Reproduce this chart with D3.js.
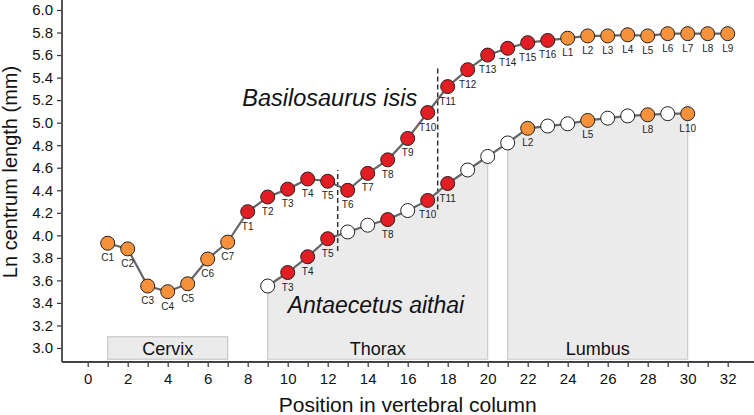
<!DOCTYPE html>
<html><head><meta charset="utf-8">
<script src="https://cdn.jsdelivr.net/npm/d3@7"></script>
<style>
body{margin:0;background:#fff;}
svg{display:block;font-family:"Liberation Sans",Arial,sans-serif;}
</style></head>
<body><svg id="chart" width="754" height="415"></svg>
<script>
// Basilosaurus isis
const basPositions = [1,2,3,4,5,6,7,8,9,10,11,12,13,14,15,16,17,18,19,20,21,22,23,24,25,26,27,28,29,30,31,32];
const basLabels = ["C1","C2","C3","C4","C5","C6","C7",
  "T1","T2","T3","T4","T5","T6","T7","T8","T9","T10","T11","T12","T13","T14","T15","T16",
  "L1","L2","L3","L4","L5","L6","L7","L8","L9"];
const basValues = [3.93,3.88,3.55,3.50,3.57,3.79,3.94,
  4.21,4.34,4.41,4.50,4.48,4.40,4.55,4.67,4.86,5.09,5.32,5.47,5.60,5.66,5.71,5.73,
  5.75,5.77,5.77,5.78,5.77,5.79,5.79,5.79,5.79];

// Antaecetus aithai
const antPositions = [9,10,11,12,13,14,15,16,17,18,19,20,21,22,23,24,25,26,27,28,29,30];
const antLabels = ["","T3","T4","T5","","","T8","","T10","T11","","","","L2","","","L5","","","L8","","L10"];
const antValues = [3.55,3.67,3.81,3.97,4.03,4.09,4.14,4.22,4.31,4.46,4.58,4.70,4.82,4.95,4.97,4.99,5.02,5.04,5.06,5.07,5.08,5.08];

// regions
const regionNames = ["Cervix","Thorax","Lumbus"];
const regionStart = [1,9,21];
const regionEnd = [7,20,30];
const cervixTop = 3.1;
const regionBase = 2.9;

// dashed dividers
const dividerX = [12.5, 17.5];
const dividerY0 = [3.86, 4.23];
const dividerY1 = [4.58, 5.49];

const yTicks = [3.0,3.2,3.4,3.6,3.8,4.0,4.2,4.4,4.6,4.8,5.0,5.2,5.4,5.6,5.8,6.0];
const xTicks = [0,1,2,3,4,5,6,7,8,9,10,11,12,13,14,15,16,17,18,19,20,21,22,23,24,25,26,27,28,29,30,31,32];

const RED = "#e31d23", ORANGE = "#f7923b", WHITE = "#ffffff";
const colorFor = l => l === "" ? WHITE : (l[0] === "T" ? RED : ORANGE);

const svg = d3.select("#chart");
const x = d3.scaleLinear().domain([0,32]).range([87.7,727.7]);
const y = d3.scaleLinear().domain([3,6]).range([348,10]);
const axisY = 362, axisX = 62;

// regions
svg.append("rect")
  .attr("x", x(regionStart[0])).attr("y", y(cervixTop))
  .attr("width", x(regionEnd[0]) - x(regionStart[0]))
  .attr("height", y(regionBase) - y(cervixTop))
  .attr("fill", "#ebebeb").attr("stroke", "#c9c9c9").attr("stroke-width", 1.2);

const antData = antPositions.map((p,i)=>({p, v:antValues[i], l:antLabels[i]}));
const area = d3.area().x(d=>x(d.p)).y0(y(regionBase)).y1(d=>y(d.v));
[1,2].forEach(k=>{
  const seg = antData.filter(d=>d.p>=regionStart[k] && d.p<=regionEnd[k]);
  svg.append("path").datum(seg).attr("d", area)
    .attr("fill","#ebebeb").attr("stroke","#c9c9c9").attr("stroke-width",1.2);
});
regionNames.forEach((n,i)=>{
  svg.append("text").attr("x", x((regionStart[i]+regionEnd[i])/2)).attr("y", 355)
    .attr("text-anchor","middle").attr("font-size",18).attr("fill","#111").text(n);
});

// axes
const gy = svg.append("g").attr("transform",`translate(${axisX},0)`)
  .call(d3.axisLeft(y).tickValues(yTicks).tickFormat(d3.format(".1f")).tickSize(5).tickPadding(4));
gy.select(".domain").remove();
gy.selectAll("line").attr("stroke","#333").attr("stroke-width",1.2);
gy.selectAll("text").attr("font-size",15).attr("fill","#111").attr("font-family","Liberation Sans, Arial, sans-serif");
svg.append("line").attr("x1",axisX).attr("x2",axisX).attr("y1",0).attr("y2",axisY)
  .attr("stroke","#444").attr("stroke-width",1.8);

const gx = svg.append("g").attr("transform",`translate(0,${axisY})`)
  .call(d3.axisBottom(x).tickValues(xTicks).tickFormat(d=> d%2===0 ? d : "").tickSize(5).tickPadding(6));
gx.select(".domain").remove();
gx.selectAll("line").attr("stroke","#333").attr("stroke-width",1.2);
gx.selectAll("text").attr("font-size",15).attr("fill","#111").attr("font-family","Liberation Sans, Arial, sans-serif");
svg.append("line").attr("x1",axisX).attr("x2",754).attr("y1",axisY).attr("y2",axisY)
  .attr("stroke","#444").attr("stroke-width",1.8);

svg.append("text").attr("x", x(16)).attr("y", 412).attr("text-anchor","middle")
  .attr("font-size",21).attr("fill","#111").text("Position in vertebral column");
svg.append("text").attr("transform",`translate(17,172) rotate(-90)`).attr("text-anchor","middle")
  .attr("font-size",20).attr("fill","#111").text("Ln centrum length (mm)");

// dividers
dividerX.forEach((dx,i)=>{
  svg.append("line").attr("x1",x(dx)).attr("x2",x(dx)).attr("y1",y(dividerY0[i])).attr("y2",y(dividerY1[i]))
    .attr("stroke","#333").attr("stroke-width",1.5).attr("stroke-dasharray","5,3");
});

// series
const line = d3.line().x(d=>x(d.p)).y(d=>y(d.v));
const basData = basPositions.map((p,i)=>({p, v:basValues[i], l:basLabels[i]}));
[basData, antData].forEach(data=>{
  svg.append("path").datum(data).attr("d", line).attr("fill","none")
    .attr("stroke","#666").attr("stroke-width",2.2);
});
[basData, antData].forEach(data=>{
  svg.append("g").selectAll("circle").data(data).join("circle")
    .attr("cx", d=>x(d.p)).attr("cy", d=>y(d.v)).attr("r", 7)
    .attr("fill", d=>colorFor(d.l)).attr("stroke","#222").attr("stroke-width",1);
  svg.append("g").selectAll("text").data(data.filter(d=>d.l!=="")).join("text")
    .attr("x", d=>x(d.p)).attr("y", d=>y(d.v)+18).attr("text-anchor","middle")
    .attr("font-size",10).attr("fill","#222").text(d=>d.l);
});

// species names
svg.append("text").attr("x", x(7.73)).attr("y", y(5.145)).attr("font-size",23.5)
  .attr("font-style","italic").attr("fill","#111").text("Basilosaurus isis");
svg.append("text").attr("x", x(10.0)).attr("y", y(3.315)).attr("font-size",23)
  .attr("font-style","italic").attr("fill","#111").text("Antaecetus aithai");
</script></body></html>
